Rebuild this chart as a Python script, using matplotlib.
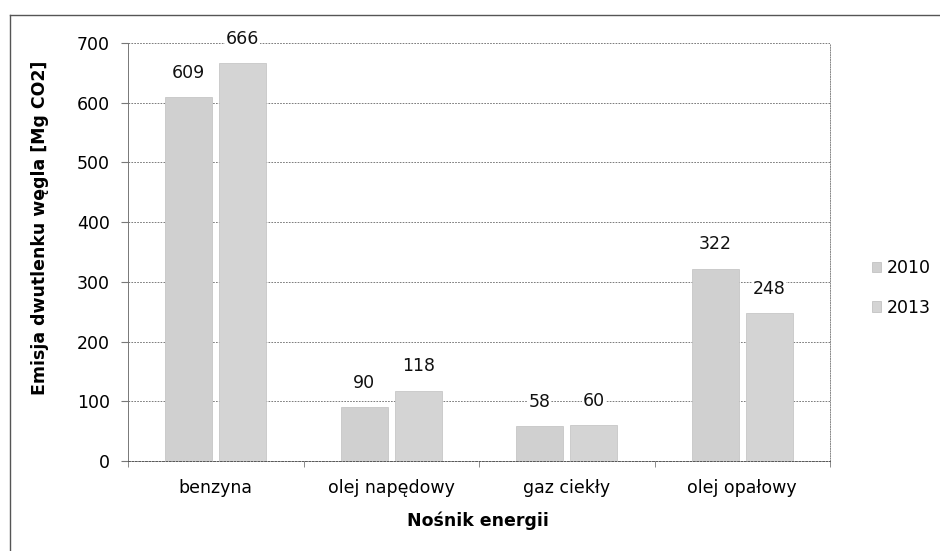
import matplotlib
matplotlib.use("Agg")
import matplotlib.pyplot as plt
import numpy as np
from matplotlib.patches import Rectangle
from matplotlib.lines import Line2D

categories = ["benzyna", "olej napędowy", "gaz ciekły", "olej opałowy"]
years = ["2010", "2013"]
v2010 = [609, 90, 58, 322]
v2013 = [666, 118, 60, 248]
yticks = [0, 100, 200, 300, 400, 500, 600, 700]

plt.rcParams['font.family'] = ['DejaVu Sans']
FS = 12.5

fig = plt.figure(figsize=(9.4, 5.51), dpi=100)
ax = fig.add_axes([128/940, 1-461/551, 702/940, 418/551])

x = np.arange(len(categories))
w = 0.268
gap = 0.04
c1 = "#d0d0d0"
c2 = "#d4d4d4"
b1 = ax.bar(x - (w+gap)/2, v2010, w, color=c1, edgecolor="#c0c0c0", linewidth=0.5, zorder=3, label=years[0])
b2 = ax.bar(x + (w+gap)/2, v2013, w, color=c2, edgecolor="#c0c0c0", linewidth=0.5, zorder=3, label=years[1])

for bars, vals in ((b1, v2010), (b2, v2013)):
    for r, v in zip(bars, vals):
        ax.annotate(str(v), (r.get_x() + r.get_width()/2, v), xytext=(0, 11),
                    textcoords="offset points", ha="center", va="bottom", fontsize=FS,
                    color="#111111", zorder=5,
                    bbox=dict(facecolor="white", edgecolor="none", pad=0.5))

ax.set_xlim(-0.5, len(categories) - 0.5)
ax.set_ylim(0, 700)
ax.set_yticks(yticks)
ax.set_yticklabels([str(t) for t in yticks], fontsize=FS)
ax.yaxis.grid(True, linestyle=(0, (2, 1.5)), color="#666666", linewidth=0.6, zorder=0)
ax.set_xticks(x)
ax.set_xticklabels(categories, fontsize=FS)
ax.tick_params(axis="x", length=0, pad=13)
ax.set_xticks(np.arange(len(categories) + 1) - 0.5, minor=True)
ax.tick_params(axis="x", which="minor", length=4, color="#777777")
ax.tick_params(axis="y", length=5, color="#777777", pad=8)
ax.spines["top"].set_visible(False)
ax.spines["right"].set_color("#888888")
ax.spines["right"].set_linestyle((0, (1, 1.5)))
ax.spines["right"].set_linewidth(0.7)
ax.spines["left"].set_color("#777777")
ax.spines["left"].set_linewidth(0.7)
ax.spines["bottom"].set_color("#555555")
ax.spines["bottom"].set_linestyle((0, (2, 1.5)))
ax.spines["bottom"].set_linewidth(0.7)

ax.set_xlabel("Nośnik energii", fontsize=FS, fontweight="bold")
ax.xaxis.set_label_coords((478-128)/702, (461-521)/418)
ax.xaxis.label.set_va("center")
ax.set_ylabel("Emisja dwutlenku węgla [Mg CO2]", fontsize=FS, fontweight="bold")
ax.yaxis.set_label_coords((40-128)/702, (461-228)/418)
ax.yaxis.label.set_va("center")

handles = [Rectangle((0, 0), 1, 1, facecolor=c1, edgecolor="#bbbbbb", linewidth=0.5),
           Rectangle((0, 0), 1, 1, facecolor=c2, edgecolor="#bbbbbb", linewidth=0.5)]
fig.legend(handles, years, loc="center left", bbox_to_anchor=(856/940, 1-288/551),
           frameon=False, fontsize=FS, handlelength=0.55, handleheight=0.55,
           handletextpad=0.35, labelspacing=1.25)

# outer border
fig.add_artist(Line2D([10/940, 10/940], [0, 1-15/551], transform=fig.transFigure, color="#555555", lw=1))
fig.add_artist(Line2D([10/940, 1], [1-15/551, 1-15/551], transform=fig.transFigure, color="#555555", lw=1))

fig.savefig("out.png", dpi=100)
